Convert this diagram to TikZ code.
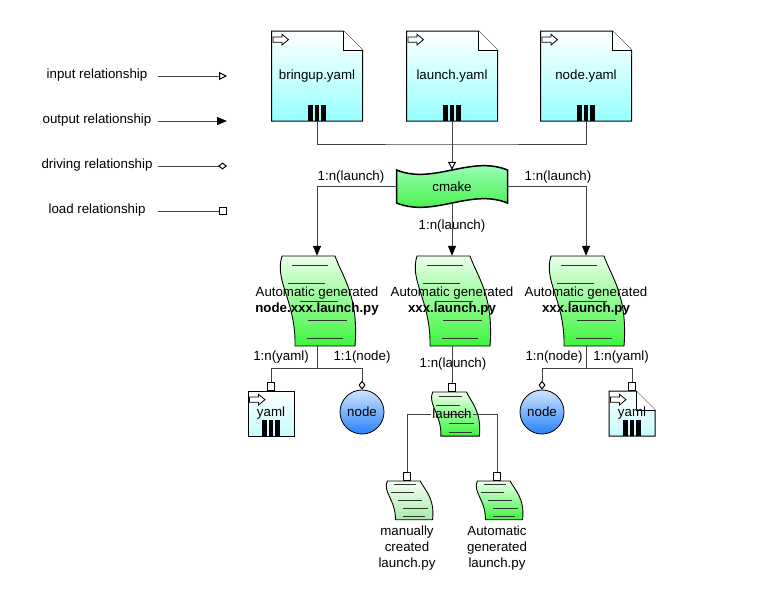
\documentclass[tikz,border=0pt]{standalone}
\usepackage{fontspec}
\setmainfont{Liberation Sans}
\usetikzlibrary{arrows.meta}

\definecolor{docbot}{RGB}{150,255,255}
\definecolor{docbotsm}{RGB}{195,252,255}
\definecolor{tapetop}{RGB}{170,255,205}
\definecolor{tapebot}{RGB}{55,240,55}
\definecolor{scrtop}{RGB}{235,255,235}
\definecolor{scrbot}{RGB}{60,245,60}
\definecolor{mantop}{RGB}{245,255,245}
\definecolor{manbot}{RGB}{165,235,165}
\definecolor{balltop}{RGB}{205,228,255}
\definecolor{ballbot}{RGB}{40,130,250}
\newcommand\lbfont{\fontsize{13.3}{16}\selectfont}

\tikzset{
  wire/.style={draw=black!75, line width=1pt},
  inrel/.style={-{Triangle[color=black,fill=white,length=8pt,width=8pt]}},
  outrel/.style={-{Triangle[color=black,length=10pt,width=8pt]}},
  drvrel/.style={-{Diamond[color=black,fill=white,length=9pt,width=7pt]}},
  loadrel/.style={-{Square[color=black,fill=white,length=8.5pt,width=8.5pt]}},
  ball/.style={circle, draw=black, line width=0.8pt, top color=balltop, bottom color=ballbot,
    minimum size=44pt, inner sep=0pt},
  % file sheet: width/height/fold/bottom colour
  pics/docshape/.style args={#1/#2/#3/#4}{code={
    \path[draw=black, line width=1pt, top color=white, bottom color=#4]
      ({-#1/2},{-#2/2}) -- ({#1/2-#3},{-#2/2}) -- ({#1/2},{-#2/2+#3}) -- ({#1/2},{#2/2})
      -- ({-#1/2},{#2/2}) -- cycle;
    \draw[fill=white, line width=0.8pt] ({#1/2-#3},{-#2/2}) -- ({#1/2-#3},{-#2/2+#3}) -- ({#1/2},{-#2/2+#3});
    \draw[fill=white, line width=0.8pt] ({-#1/2+1.5},{-#2/2+6}) -- ++(9,0) -- ++(0,-2.7) -- ++(6.5,5.35)
      -- ++(-6.5,5.35) -- ++(0,-2.7) -- ++(-9,0) -- cycle;
    \foreach \k in {-1,0,1}
      \fill[black] ({\k*6.6-2.4},{#2/2}) rectangle ({\k*6.6+2.4},{#2/2-16});
  }},
  % wavy script sheet: top colour/bottom colour
  pics/scroll/.style args={#1/#2}{code={
    \path[draw=black, line width=0.9pt, top color=#1, bottom color=#2]
      (-35,0) .. controls (-43,25) and (-21,45) .. (-22,90) -- (38,90)
      .. controls (42,40) and (25,20) .. (18,0) -- cycle;
    \draw[black!80, line width=0.9pt] (-25,9) -- (11,9) (-29,27) -- (8,27) (-17,45) -- (21,45)
      (-9,64) -- (30,64) (-10,82) -- (26,82);
  }},
  pics/tape/.style={code={
    \path[draw=black, line width=1.5pt, top color=tapetop, bottom color=tapebot]
      (-55.5,-16.5) .. controls (-18.5,-1.5) and (18.5,-31.5) .. (55.5,-16.5) -- (55.5,16.5)
      .. controls (18.5,1.5) and (-18.5,31.5) .. (-55.5,16.5) -- cycle;
  }},
}

\begin{document}
\begin{tikzpicture}[x=1pt, y=-1pt, font=\lbfont]
    \path[use as bounding box, fill=white] (0,0) rectangle (767,595);

    % legend
    \node (lgin) at (97,75) {input relationship};
    \node (lgout) at (97,120) {output relationship};
    \node (lgdrv) at (97,165) {driving relationship};
    \node (lgload) at (97,210) {load relationship};
    \coordinate (lginA) at (158,76);   \coordinate (lginB) at (227,76);
    \coordinate (lgoutA) at (158,121); \coordinate (lgoutB) at (227,121);
    \coordinate (lgdrvA) at (158,166); \coordinate (lgdrvB) at (227,166);
    \coordinate (lgloadA) at (158,211); \coordinate (lgloadB) at (227,211);
    \draw[wire,inrel] (lginA) -- (lginB);
    \draw[wire,outrel] (lgoutA) -- (lgoutB);
    \draw[wire,drvrel] (lgdrvA) -- (lgdrvB);
    \draw[wire,loadrel] (lgloadA) -- (lgloadB);

    % yaml files
    \pic at (317,76) {docshape=91/90/19/docbot};
    \node (bringup) [minimum width=91pt, minimum height=90pt] at (317,76) {bringup.yaml};
    \pic at (452,76) {docshape=91/90/19/docbot};
    \node (launchyaml) [minimum width=91pt, minimum height=90pt] at (452,76) {launch.yaml};
    \pic at (586,76) {docshape=91/90/19/docbot};
    \node (nodeyaml) [minimum width=91pt, minimum height=90pt] at (586,76) {node.yaml};

    % cmake
    \pic at (452,186.5) {tape};
    \node (cmake) [minimum width=111pt, minimum height=33pt] at (452,186.5) {cmake};

    % generated launch files
    \pic at (317,256) {scroll=scrtop/scrbot};
    \node (genA) [minimum height=90pt, align=center] at (317,301) {Automatic generated\\\textbf{node.xxx.launch.py}};
    \pic at (452,256) {scroll=scrtop/scrbot};
    \node (genB) [minimum height=90pt, align=center] at (452,301) {Automatic generated\\\textbf{xxx.launch.py}};
    \pic at (586,256) {scroll=scrtop/scrbot};
    \node (genC) [minimum height=90pt, align=center] at (586,301) {Automatic generated\\\textbf{xxx.launch.py}};

    % second row
    \pic at (271,413.5) {docshape=46/45/0/docbotsm};
    \node (yamlA) [minimum width=46pt, minimum height=45pt] at (271,413.5) {yaml};
    \node (nodeA) [ball] at (362,412) {node};
    \pic[xscale=.64, yscale=.49] at (455,392) {scroll=scrtop/scrbot};
    \node (launchS) [minimum height=44pt, inner xsep=1pt] at (452,414) {launch};
    \node (nodeC) [ball] at (542,412) {node};
    \pic at (632,413.5) {docshape=46/45/19/docbotsm};
    \node (yamlC) [minimum width=46pt, minimum height=45pt] at (632,413.5) {yaml};

    % third row
    \pic[xscale=.62, yscale=.43] at (409,481) {scroll=mantop/manbot};
    \node (manual) [minimum width=34pt, minimum height=39pt] at (407,500.5) {};
    \node (manualL) [align=center] at (407,548) {manually\\created\\launch.py};
    \pic[xscale=.62, yscale=.43] at (499,481) {scroll=scrtop/scrbot};
    \node (autogen) [minimum width=34pt, minimum height=39pt] at (497,500.5) {};
    \node (autogenL) [align=center] at (497,548) {Automatic\\generated\\launch.py};

    % multiplicities
    \node (mA) at (351,177) {1:n(launch)};
    \node (mB) at (452,226) {1:n(launch)};
    \node (mC) at (558,177) {1:n(launch)};
    \node (mA1) at (281,357) {1:n(yaml)};
    \node (mA2) at (362,357) {1:1(node)};
    \node (mB1) at (453,364) {1:n(launch)};
    \node (mC1) at (554,357) {1:n(node)};
    \node (mC2) at (621,357) {1:n(yaml)};

    % connectors
    \coordinate (bus) at (452,144);
    \draw[wire] (bringup.south) |- (bus) -| (nodeyaml.south);
    \draw[wire,inrel] (launchyaml.south) -- (cmake.north);
    \draw[wire,outrel] (cmake.west) -| (genA.north);
    \draw[wire,outrel] (cmake.south) -- (genB.north);
    \draw[wire,outrel] (cmake.east) -| (genC.north);

    \coordinate (jA) at (317,368);
    \draw[wire] (genA.south) -- (jA);
    \draw[wire,loadrel] (jA) -| (yamlA.north);
    \draw[wire,drvrel] (jA) -| (nodeA.north);

    \draw[wire,loadrel] (genB.south) -- (launchS.north);
    \draw[wire,loadrel] (launchS.west) -| (manual.north);
    \draw[wire,loadrel] (launchS.east) -| (autogen.north);

    \coordinate (jC) at (586,368);
    \draw[wire] (genC.south) -- (jC);
    \draw[wire,drvrel] (jC) -| (nodeC.north);
    \draw[wire,loadrel] (jC) -| (yamlC.north);
\end{tikzpicture}
\end{document}
